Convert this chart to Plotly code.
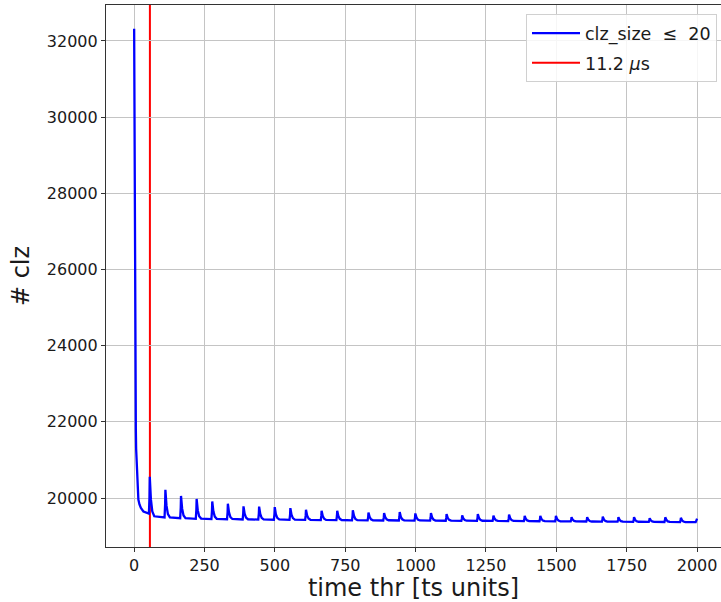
import plotly.graph_objects as go

# Number of clusters (size <= 20) as a function of the time threshold.
# Initial steep drop after t = 0.
time_start = [0, 1, 2, 3, 4, 5, 6, 7, 9, 11, 13, 15, 19, 24, 33, 44]
clz_start = [32320, 29200, 26600, 24800, 23500, 22600, 21800, 21300, 20830,
             20400, 20150, 19960, 19830, 19737, 19647, 19605]

# Periodic bumps every ~55.5 ts units: rise, peak and decay of each bump
time_bumps = [
    52.5, 54.5, 55.5, 59.5, 64.5, 71.5,
    108, 110, 111, 115, 120, 127,
    163.5, 165.5, 166.5, 170.5, 175.5, 182.5,
    219, 221, 222, 226, 231, 238,
    274.5, 276.5, 277.5, 281.5, 286.5, 293.5,
    330, 332, 333, 337, 342, 349,
    385.5, 387.5, 388.5, 392.5, 397.5, 404.5,
    441, 443, 444, 448, 453, 460,
    496.5, 498.5, 499.5, 503.5, 508.5, 515.5,
    552, 554, 555, 559, 564, 571,
    607.5, 609.5, 610.5, 614.5, 619.5, 626.5,
    663, 665, 666, 670, 675, 682,
    718.5, 720.5, 721.5, 725.5, 730.5, 737.5,
    774, 776, 777, 781, 786, 793,
    829.5, 831.5, 832.5, 836.5, 841.5, 848.5,
    885, 887, 888, 892, 897, 904,
    940.5, 942.5, 943.5, 947.5, 952.5, 959.5,
    996, 998, 999, 1003, 1008, 1015,
    1051.5, 1053.5, 1054.5, 1058.5, 1063.5, 1070.5,
    1107, 1109, 1110, 1114, 1119, 1126,
    1162.5, 1164.5, 1165.5, 1169.5, 1174.5, 1181.5,
    1218, 1220, 1221, 1225, 1230, 1237,
    1273.5, 1275.5, 1276.5, 1280.5, 1285.5, 1292.5,
    1329, 1331, 1332, 1336, 1341, 1348,
    1384.5, 1386.5, 1387.5, 1391.5, 1396.5, 1403.5,
    1440, 1442, 1443, 1447, 1452, 1459,
    1495.5, 1497.5, 1498.5, 1502.5, 1507.5, 1514.5,
    1551, 1553, 1554, 1558, 1563, 1570,
    1606.5, 1608.5, 1609.5, 1613.5, 1618.5, 1625.5,
    1662, 1664, 1665, 1669, 1674, 1681,
    1717.5, 1719.5, 1720.5, 1724.5, 1729.5, 1736.5,
    1773, 1775, 1776, 1780, 1785, 1792,
    1828.5, 1830.5, 1831.5, 1835.5, 1840.5, 1847.5,
    1884, 1886, 1887, 1891, 1896, 1903,
    1939.5, 1941.5, 1942.5, 1946.5, 1951.5, 1958.5,
    1995, 1998, 2000,
]
clz_bumps = [
    19590, 20022, 20560, 19970, 19650, 19520,
    19490, 19827, 20215, 19800, 19575, 19490,
    19470, 19739, 20055, 19720, 19540, 19470,
    19455, 19692, 19975, 19680, 19522, 19460,
    19447, 19657, 19910, 19650, 19512, 19455,
    19442, 19627, 19850, 19622, 19500, 19450,
    19438, 19593, 19780, 19588, 19485, 19443,
    19433, 19588, 19775, 19583, 19480, 19438,
    19430, 19579, 19760, 19577, 19478, 19438,
    19428, 19566, 19735, 19565, 19472, 19434,
    19425, 19544, 19690, 19542, 19461, 19428,
    19420, 19530, 19665, 19529, 19455, 19425,
    19418, 19529, 19665, 19528, 19453, 19423,
    19415, 19534, 19680, 19533, 19452, 19420,
    19412, 19506, 19620, 19505, 19442, 19416,
    19410, 19498, 19605, 19498, 19439, 19416,
    19410, 19509, 19630, 19508, 19441, 19415,
    19408, 19492, 19595, 19491, 19434, 19411,
    19405, 19495, 19605, 19494, 19433, 19409,
    19403, 19483, 19580, 19481, 19427, 19405,
    19400, 19465, 19545, 19465, 19422, 19404,
    19400, 19481, 19580, 19480, 19425, 19403,
    19398, 19462, 19540, 19460, 19417, 19399,
    19395, 19472, 19565, 19470, 19419, 19398,
    19393, 19455, 19530, 19453, 19411, 19394,
    19390, 19453, 19530, 19452, 19409, 19392,
    19388, 19452, 19530, 19450, 19407, 19389,
    19385, 19435, 19495, 19433, 19400, 19386,
    19383, 19433, 19495, 19432, 19397, 19383,
    19380, 19439, 19510, 19437, 19398, 19382,
    19378, 19431, 19495, 19429, 19393, 19379,
    19375, 19429, 19495, 19428, 19391, 19377,
    19373, 19417, 19470, 19415, 19385, 19373,
    19370, 19426, 19495, 19425, 19387, 19372,
    19368, 19418, 19480, 19417, 19382, 19368,
    19365, 19420, 19460,
]

time_ts = time_start + time_bumps
n_clz = clz_start + clz_bumps

# Reference threshold: 11.2 us expressed in ts units (0.2 us each)
threshold_us = 11.2
ts_unit_us = 0.2
threshold_ts = threshold_us / ts_unit_us

x_ticks = [0, 250, 500, 750, 1000, 1250, 1500, 1750, 2000]
y_ticks = [20000, 22000, 24000, 26000, 28000, 30000, 32000]

fig = go.Figure()
fig.add_trace(go.Scatter(
    x=time_ts, y=n_clz, mode="lines",
    line=dict(color="#0000ff", width=2.3),
    name="clz_size  \u2264  20", legendrank=1, legendgroup="curve",
))
fig.add_vline(
    x=threshold_ts, line=dict(color="#ff0000", width=2), layer="below",
    showlegend=True, name="11.2 <i>\u03bc</i>s", legendrank=2,
    legendgroup="thr",
)

axis_common = dict(
    showgrid=True, gridcolor="#c4c4c4", gridwidth=1, zeroline=False,
    showline=True, linecolor="#333333", linewidth=1.2,
    ticks="outside", ticklen=4, tickcolor="#333333", tickwidth=1,
    tickfont=dict(size=16, color="#1a1a1a"),
)

fig.update_layout(
    template="none",
    width=721, height=602,
    margin=dict(l=106, r=0, t=5, b=55),
    paper_bgcolor="white", plot_bgcolor="white",
    font=dict(family="DejaVu Sans", size=16, color="#1a1a1a"),
    showlegend=True,
    legend=dict(
        x=0.9935, y=0.983, xanchor="right", yanchor="top",
        bgcolor="rgba(255,255,255,0.85)", bordercolor="#d0d0d0", borderwidth=1,
        font=dict(size=17.5, color="#1a1a1a"),
        tracegroupgap=4, itemwidth=48,
    ),
    xaxis=dict(
        range=[-100, 2085], tickvals=x_ticks, mirror=True,
        title=dict(text="time thr [ts units]", font=dict(size=24), standoff=6),
        **axis_common,
    ),
    yaxis=dict(
        range=[18714, 32945], tickvals=y_ticks, tickformat="d",
        title=dict(text="# clz", font=dict(size=24), standoff=10),
        **axis_common,
    ),
)

fig.write_html("out.html")
